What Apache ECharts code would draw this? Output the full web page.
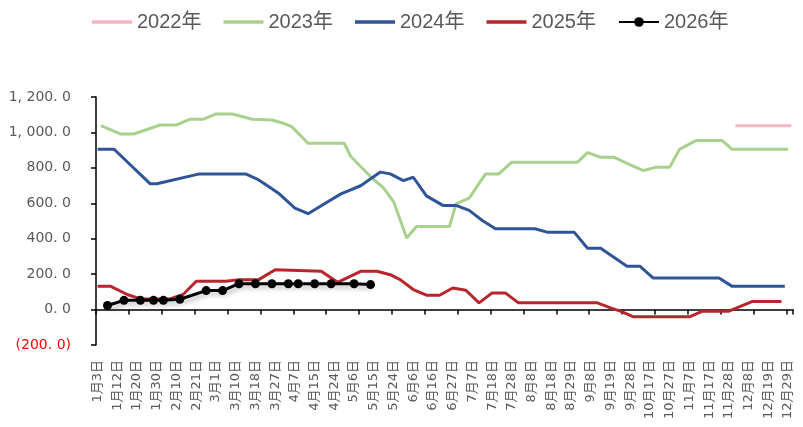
<!DOCTYPE html>
<html>
<head>
<meta charset="utf-8">
<script src="https://cdn.jsdelivr.net/npm/echarts@6/dist/echarts.min.js"></script>
<style>
  html, body { margin: 0; padding: 0; background: #fff; }
  #chart { width: 803px; height: 427px; }
</style>
</head>
<body>
<div id="chart"></div>
<script>
// Daily axis: 212 trading-day slots, a date label every 6th slot
const dayCount = 212;
const dateLabels = [
  '1月3日','1月12日','1月20日','1月30日','2月10日','2月21日','3月1日','3月10日','3月18日',
  '3月27日','4月7日','4月15日','4月24日','5月6日','5月15日','5月24日','6月6日','6月16日',
  '6月27日','7月7日','7月18日','7月28日','8月8日','8月18日','8月29日','9月8日','9月19日',
  '9月28日','10月17日','10月27日','11月7日','11月17日','11月28日','12月8日','12月19日','12月29日'
];
const labelStep = 6;

// Series values as [day slot, value]
const y2022 = [[194,1038],[211,1038]];
const y2023 = [[1,1038],[7,991],[11,991],[19,1042],[24,1042],[28,1074],[32,1074],[36,1104],[41,1104],
  [47,1074],[53,1070],[56,1055],[59,1033],[64,939],[75,939],[77,864],[83,751],[87,686],[90,610],[94,404],
  [97,469],[107,469],[109,597],[113,629],[118,766],[122,766],[126,832],[146,832],[149,886],[153,860],
  [157,860],[162,817],[166,785],[170,804],[174,804],[177,905],[182,954],[190,954],[193,905],[210,905]];
const y2024 = [[0,905],[5,905],[16,710],[18,710],[31,766],[45,766],[49,732],[52,695],[55,657],[60,573],
  [64,541],[69,597],[74,653],[80,699],[86,776],[89,766],[93,728],[96,747],[100,642],[105,588],[109,588],
  [113,560],[117,503],[121,456],[133,456],[137,436],[145,436],[149,346],[153,346],[157,295],[161,244],
  [165,244],[169,178],[189,178],[193,131],[209,131]];
const y2025 = [[0,131],[4,131],[9,85],[13,60],[22,60],[26,85],[30,160],[39,160],[43,169],[49,169],
  [54,225],[68,216],[73,154],[80,216],[85,216],[89,197],[92,169],[96,113],[100,81],[104,81],[108,122],
  [112,109],[116,38],[120,94],[124,94],[128,38],[152,38],[156,10],[159,-9],[163,-41],[180,-41],[184,-9],
  [192,-9],[199,45],[208,45]];
const y2026 = [[3,23],[8,52],[13,52],[17,52],[20,52],[25,58],[33,107],[38,107],[43,146],[48,146],
  [53,146],[58,146],[61,146],[66,146],[71,146],[78,146],[83,141]];

const yTicks = { min: -200, max: 1200, step: 200 };

// Build the category list and the per-slot arrays
const categories = [];
for (let i = 0; i < dayCount; i++) {
  categories.push(i % labelStep === 0 ? (dateLabels[i / labelStep] || '') : '');
}
function toSlots(points) {
  const arr = new Array(dayCount).fill(null);
  points.forEach(p => { arr[p[0]] = p[1]; });
  return arr;
}
function fmtValue(v) {
  const a = Math.abs(v);
  const body = a >= 1000
    ? Math.floor(a / 1000) + ', ' + String(a % 1000).padStart(3, '0') + '. 0'
    : a + '. 0';
  return v < 0 ? '(' + body + ')' : body;
}

const tickFont = '"DejaVu Sans", "Noto Sans CJK SC", sans-serif';
const gray = '#595959';
const barIcon = 'path://M0 0H40V3.5H0Z';

function lineSeries(name, points, color) {
  return {
    name, type: 'line', data: toSlots(points), connectNulls: true,
    symbol: 'none', lineStyle: { color, width: 3 }, itemStyle: { color },
    animation: false
  };
}

const chart = echarts.init(document.getElementById('chart'));
chart.setOption({
  animation: false,
  backgroundColor: '#fff',
  legend: {
    left: 87, top: 7, itemWidth: 40, itemHeight: 12, itemGap: 22,
    textStyle: { fontSize: 20, color: gray, fontFamily: '"Liberation Sans Narrow", "Liberation Sans", "Noto Sans CJK SC", sans-serif' },
    data: [
      { name: '2022年', icon: barIcon },
      { name: '2023年', icon: barIcon },
      { name: '2024年', icon: barIcon },
      { name: '2025年', icon: barIcon },
      { name: '2026年' }
    ]
  },
  grid: { left: 96, right: 10, top: 97, bottom: 82, outerBoundsMode: 'none', containLabel: false },
  xAxis: {
    type: 'category', data: categories, boundaryGap: true,
    axisLine: { onZero: true, lineStyle: { color: '#000', width: 1.5 } },
    axisTick: { show: true, interval: 9, length: 5, lineStyle: { color: '#000', width: 1.5 } },
    axisLabel: { interval: labelStep - 1, rotate: 90, margin: 15, fontSize: 13, color: gray, fontFamily: tickFont },
    splitLine: { show: false }
  },
  yAxis: {
    type: 'value', min: yTicks.min, max: yTicks.max, interval: yTicks.step,
    axisLine: { show: true, lineStyle: { color: '#000', width: 1.5 } },
    axisTick: { show: true, length: 5, lineStyle: { color: '#000', width: 1.5 } },
    axisLabel: {
      margin: 25, fontSize: 14, fontFamily: tickFont,
      formatter: fmtValue,
      color: v => (Number(v) < 0 ? '#ff0000' : gray)
    },
    splitLine: { show: false }
  },
  series: [
    lineSeries('2022年', y2022, '#F4B6BE'),
    lineSeries('2023年', y2023, '#A9D18E'),
    lineSeries('2024年', y2024, '#2F5597'),
    lineSeries('2025年', y2025, '#B8252C'),
    {
      name: '2026年', type: 'line', data: toSlots(y2026), connectNulls: true,
      symbol: 'circle', symbolSize: 9, showSymbol: true, showAllSymbol: true,
      itemStyle: { color: '#000' },
      lineStyle: { color: '#000', width: 3, shadowColor: 'rgba(0,0,0,0.3)', shadowBlur: 5, shadowOffsetX: 2, shadowOffsetY: 3 },
      animation: false
    }
  ]
});
</script>
</body>
</html>
